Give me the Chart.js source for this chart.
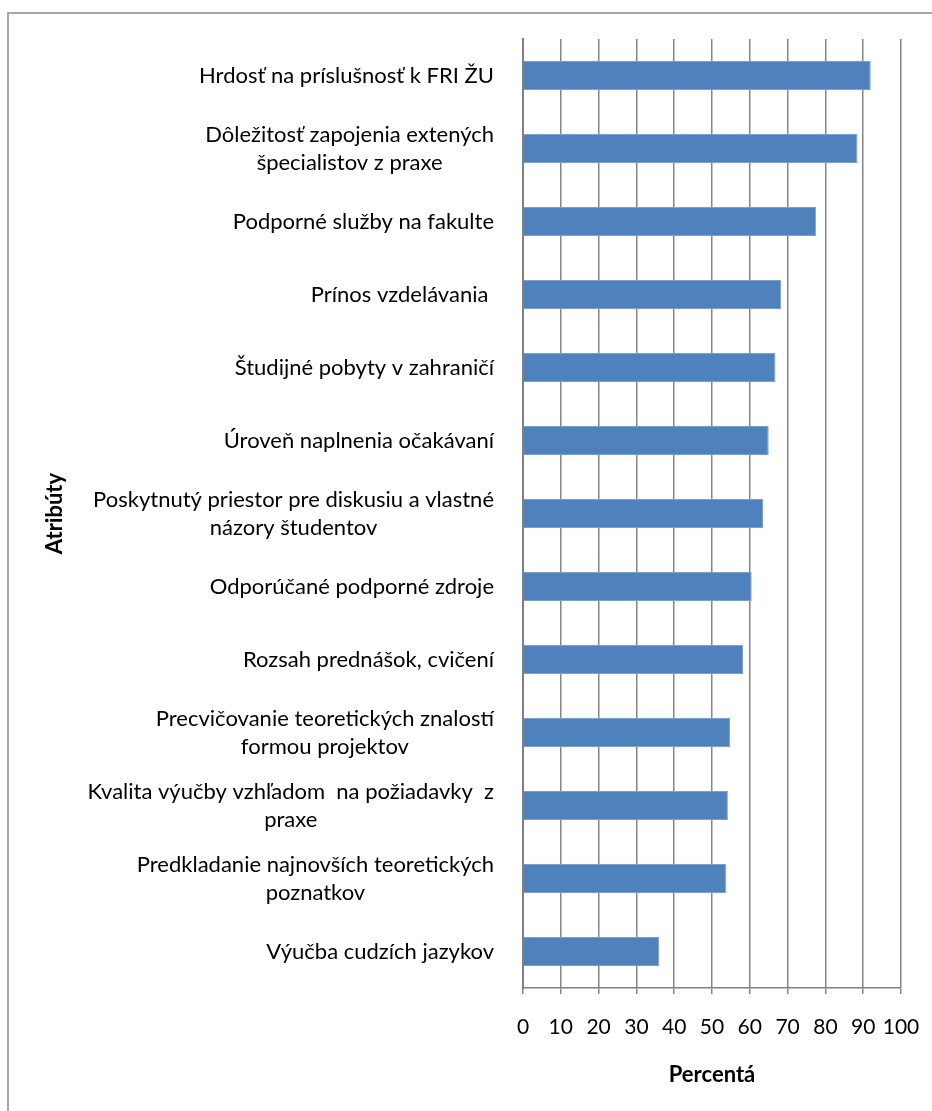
<!DOCTYPE html>
<html><head><meta charset="utf-8">
<script src="https://cdn.jsdelivr.net/npm/chart.js@4"></script>
<style>
html,body{margin:0;padding:0;background:#fff;}
#wrap{position:relative;width:932px;height:1111px;overflow:hidden;background:#fff;}
#frame{position:absolute;left:7px;top:12px;width:1000px;height:1200px;border-left:2px solid #a6a6a6;border-top:2px solid #a6a6a6;}
canvas{position:absolute;left:0;top:0;}
</style></head><body>
<div id="wrap"><div id="frame"></div><canvas id="c" width="932" height="1111"></canvas></div>
<script>
const categories = [
  ["Hrdosť na príslušnosť k FRI ŽU"],
  ["Dôležitosť zapojenia extených", "špecialistov z praxe"],
  ["Podporné služby na fakulte"],
  ["Prínos vzdelávania "],
  ["Študijné pobyty v zahraničí"],
  ["Úroveň naplnenia očakávaní"],
  ["Poskytnutý priestor pre diskusiu a vlastné", "názory študentov"],
  ["Odporúčané podporné zdroje"],
  ["Rozsah prednášok, cvičení"],
  ["Precvičovanie teoretických znalostí", "formou projektov"],
  ["Kvalita výučby vzhľadom  na požiadavky  z", "praxe"],
  ["Predkladanie najnovších teoretických", "poznatkov"],
  ["Výučba cudzích jazykov"]
];
const values = [92, 88.5, 77.5, 68.3, 66.8, 65, 63.5, 60.5, 58.2, 54.8, 54.2, 53.8, 36];
const xMin = 0, xMax = 100, xStep = 10;
const xTitle = "Percentá";
const yTitle = "Atribúty";

const FONT = "Lato";
const LABEL_RIGHT = 494;
const LINE_H = 28;

const yLabelPlugin = {
  id: 'yLabels',
  afterDraw(chart) {
    const ctx = chart.ctx, y = chart.scales.y;
    ctx.save();
    ctx.font = '22px ' + FONT;
    ctx.fillStyle = '#000';
    ctx.textAlign = 'center';
    ctx.textBaseline = 'middle';
    categories.forEach((lines, i) => {
      const cy = y.getPixelForValue(i);
      const w = Math.max(...lines.map(l => ctx.measureText(l).width));
      const cx = LABEL_RIGHT - w / 2;
      lines.forEach((l, j) => {
        ctx.fillText(l, cx, cy + (j - (lines.length - 1) / 2) * LINE_H);
      });
    });
    ctx.restore();
  }
};

new Chart(document.getElementById('c'), {
  type: 'bar',
  data: {
    labels: categories,
    datasets: [{
      data: values,
      backgroundColor: '#4F81BD',
      borderColor: '#7C9FCE',
      borderWidth: 1,
      barPercentage: 0.4,
      categoryPercentage: 1
    }]
  },
  options: {
    indexAxis: 'y',
    responsive: false,
    animation: false,
    devicePixelRatio: 1,
    layout: { padding: { top: 39, right: 31, left: 0, bottom: 0 } },
    plugins: { legend: { display: false }, tooltip: { enabled: false } },
    scales: {
      x: {
        min: xMin, max: xMax,
        ticks: { stepSize: xStep, autoSkip: false, color: '#000', font: { family: FONT, size: 21 }, padding: 21, maxRotation: 0 },
        grid: { color: '#858585', lineWidth: 1.5, tickLength: 6, drawTicks: true },
        border: { color: '#808080', width: 1.5 },
        title: { display: true, text: xTitle, color: '#000', font: { family: FONT, size: 22, weight: 'bold' }, padding: { top: 0, bottom: 23 } },
        afterFit(s) { s.height = 1111 - 988; s.paddingLeft = 0; s.paddingRight = 0; }
      },
      y: {
        ticks: { display: false },
        grid: { display: false },
        border: { color: '#808080', width: 2 },
        title: { display: true, text: yTitle, color: '#000', font: { family: FONT, size: 22, weight: 'bold' }, padding: { top: 42, bottom: 0 } },
        afterFit(s) { s.width = 523; s.paddingTop = 0; s.paddingBottom = 0; }
      }
    }
  },
  plugins: [yLabelPlugin]
});
</script>
</body></html>
